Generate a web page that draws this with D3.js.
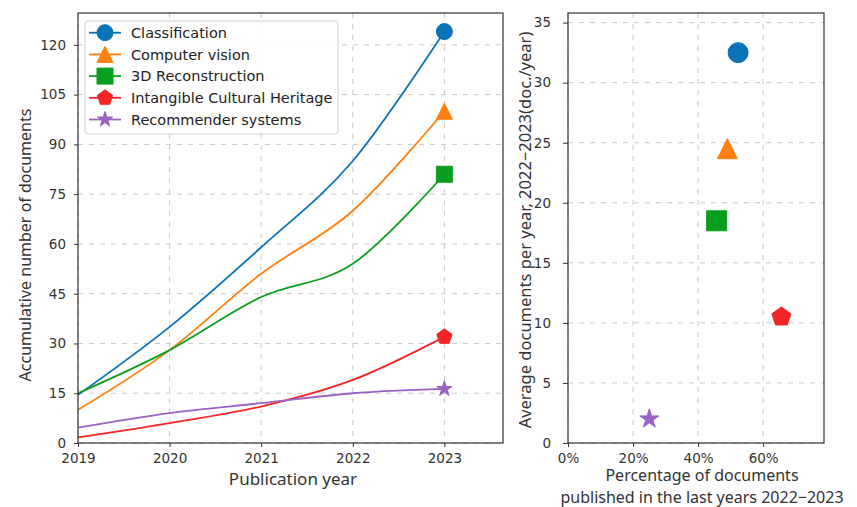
<!DOCTYPE html>
<html><head><meta charset="utf-8">
<script src="https://cdn.jsdelivr.net/npm/d3@7"></script>
<style>body{margin:0;background:#fff} svg{display:block}</style>
</head><body>
<svg id="c" width="857" height="507"></svg>
<script>
// ---- data ----
const years = [2019, 2020, 2021, 2022, 2023];
const seriesNames = ["Classification", "Computer vision", "3D Reconstruction", "Intangible Cultural Heritage", "Recommender systems"];
const classification = [14.5, 35, 59, 85, 124];
const computerVision = [10, 28, 51, 70, 100];
const reconstruction3D = [15, 28, 44, 54, 81];
const intangibleHeritage = [1.7, 6, 11, 19, 32];
const recommenderSystems = [4.6, 9, 12, 15, 16.3];
const pctRecent = [0.523, 0.49, 0.457, 0.656, 0.25];
const avgPerYear = [32.5, 24.5, 18.5, 10.5, 2.0];
const leftYTicks = [0, 15, 30, 45, 60, 75, 90, 105, 120];
const rightYTicks = [0, 5, 10, 15, 20, 25, 30, 35];
const rightXTicks = [0, 0.2, 0.4, 0.6];
const colors = ["#0a72b8", "#ff7f0e", "#0a9e1e", "#f52424", "#9a62c4"];
const markerTypes = ["circle", "triangle", "square", "pentagon", "star"];

const seriesValues = [classification, computerVision, reconstruction3D, intangibleHeritage, recommenderSystems];

const svg = d3.select("#c");
const tickFont = "'DejaVu Sans', sans-serif";
const labelFont = "'Noto Sans', sans-serif";

function markerPath(type, ms) {
  const r = ms / 2;
  const p = d3.path();
  if (type === "circle") { p.arc(0, 0, r, 0, 2 * Math.PI); p.closePath(); }
  else if (type === "triangle") { p.moveTo(0, -r); p.lineTo(r, r); p.lineTo(-r, r); p.closePath(); }
  else if (type === "square") { p.rect(-r, -r, ms, ms); }
  else if (type === "pentagon") {
    for (let k = 0; k < 5; k++) { const a = -Math.PI / 2 + k * 2 * Math.PI / 5; k ? p.lineTo(r * Math.cos(a), r * Math.sin(a)) : p.moveTo(r * Math.cos(a), r * Math.sin(a)); }
    p.closePath();
  } else if (type === "star") {
    for (let k = 0; k < 10; k++) { const rr = k % 2 ? r * 0.381966 : r; const a = -Math.PI / 2 + k * Math.PI / 5; k ? p.lineTo(rr * Math.cos(a), rr * Math.sin(a)) : p.moveTo(rr * Math.cos(a), rr * Math.sin(a)); }
    p.closePath();
  }
  return p.toString();
}

function styleAxis(g) {
  g.select(".domain").remove();
  g.selectAll(".tick line").attr("stroke", "#333").attr("stroke-width", 1);
  g.selectAll(".tick text").attr("fill", "#333").style("font-family", tickFont).style("font-size", "13.5px");
}

// ---- left chart ----
const L = { x0: 78, x1: 503, y0: 13, y1: 443 };
const xL = d3.scaleLinear().domain([2019, 2023.64]).range([L.x0, L.x1]);
const yL = d3.scaleLinear().domain([0, 129.6]).range([L.y1, L.y0]);

const gL = svg.append("g");
gL.append("g").selectAll("line").data(years).join("line")
  .attr("x1", d => xL(d)).attr("x2", d => xL(d)).attr("y1", L.y0).attr("y2", L.y1)
  .attr("stroke", "#c8c8c8").attr("stroke-width", 1).attr("stroke-dasharray", "5,6");
gL.append("g").selectAll("line").data(leftYTicks).join("line")
  .attr("x1", L.x0).attr("x2", L.x1).attr("y1", d => yL(d)).attr("y2", d => yL(d))
  .attr("stroke", "#c8c8c8").attr("stroke-width", 1).attr("stroke-dasharray", "5,6");

const line = d3.line().x((d, i) => xL(years[i])).y(d => yL(d)).curve(d3.curveCardinal.tension(0));
seriesValues.forEach((vals, si) => {
  gL.append("path").attr("d", line(vals)).attr("fill", "none").attr("stroke", colors[si]).attr("stroke-width", 1.8);
});
seriesValues.forEach((vals, si) => {
  const last = vals.length - 1;
  gL.append("path").attr("d", markerPath(markerTypes[si], 16))
    .attr("transform", `translate(${xL(years[last])},${yL(vals[last])})`)
    .attr("fill", colors[si]).attr("stroke", colors[si]).attr("stroke-width", 1);
});

gL.append("rect").attr("x", L.x0).attr("y", L.y0).attr("width", L.x1 - L.x0).attr("height", L.y1 - L.y0)
  .attr("fill", "none").attr("stroke", "#333").attr("stroke-width", 1.2);

const axLx = gL.append("g").attr("transform", `translate(0,${L.y1})`)
  .call(d3.axisBottom(xL).tickValues(years).tickFormat(d3.format("d")).tickSize(4).tickPadding(6));
styleAxis(axLx);
const axLy = gL.append("g").attr("transform", `translate(${L.x0},0)`)
  .call(d3.axisLeft(yL).tickValues(leftYTicks).tickSize(4).tickPadding(8));
styleAxis(axLy);

gL.append("text").attr("x", 293).attr("y", 485).attr("text-anchor", "middle")
  .style("font-family", labelFont).style("font-size", "17px").attr("fill", "#333").text("Publication year");
gL.append("text").attr("transform", "translate(31,245) rotate(-90)").attr("text-anchor", "middle")
  .style("font-family", labelFont).style("font-size", "16px").attr("fill", "#333").text("Accumulative number of documents");

// legend
const lg = gL.append("g");
lg.append("rect").attr("x", 85).attr("y", 21).attr("width", 253).attr("height", 113).attr("rx", 3)
  .attr("fill", "#fff").attr("fill-opacity", 0.85).attr("stroke", "#d0d0d0").attr("stroke-width", 1);
seriesNames.forEach((name, i) => {
  const yy = 32.7 + i * 21.7;
  lg.append("line").attr("x1", 89).attr("x2", 121).attr("y1", yy).attr("y2", yy).attr("stroke", colors[i]).attr("stroke-width", 1.8);
  lg.append("path").attr("d", markerPath(markerTypes[i], 16)).attr("transform", `translate(105,${yy})`)
    .attr("fill", colors[i]).attr("stroke", colors[i]).attr("stroke-width", 1);
  lg.append("text").attr("x", 131).attr("y", yy).attr("dy", "0.36em")
    .style("font-family", tickFont).style("font-size", "14.5px").attr("fill", "#222").text(name);
});

// ---- right chart ----
const R = { x0: 568, x1: 824, y0: 13, y1: 443 };
const xR = d3.scaleLinear().domain([0, 0.787]).range([R.x0, R.x1]);
const yR = d3.scaleLinear().domain([0, 35.8]).range([R.y1, R.y0]);
const gR = svg.append("g");
gR.append("g").selectAll("line").data(rightXTicks).join("line")
  .attr("x1", d => xR(d)).attr("x2", d => xR(d)).attr("y1", R.y0).attr("y2", R.y1)
  .attr("stroke", "#c8c8c8").attr("stroke-width", 1).attr("stroke-dasharray", "5,6");
gR.append("g").selectAll("line").data(rightYTicks).join("line")
  .attr("x1", R.x0).attr("x2", R.x1).attr("y1", d => yR(d)).attr("y2", d => yR(d))
  .attr("stroke", "#c8c8c8").attr("stroke-width", 1).attr("stroke-dasharray", "5,6");

pctRecent.forEach((p, i) => {
  gR.append("path").attr("d", markerPath(markerTypes[i], 20))
    .attr("transform", `translate(${xR(p)},${yR(avgPerYear[i])})`)
    .attr("fill", colors[i]).attr("stroke", colors[i]).attr("stroke-width", 1);
});

gR.append("rect").attr("x", R.x0).attr("y", R.y0).attr("width", R.x1 - R.x0).attr("height", R.y1 - R.y0)
  .attr("fill", "none").attr("stroke", "#333").attr("stroke-width", 1.2);
const axRx = gR.append("g").attr("transform", `translate(0,${R.y1})`)
  .call(d3.axisBottom(xR).tickValues(rightXTicks).tickFormat(d3.format(".0%")).tickSize(4).tickPadding(6));
styleAxis(axRx);
const axRy = gR.append("g").attr("transform", `translate(${R.x0},0)`)
  .call(d3.axisLeft(yR).tickValues(rightYTicks).tickSize(5).tickPadding(12));
styleAxis(axRy);

gR.append("text").attr("transform", "translate(531,230) rotate(-90)").attr("text-anchor", "middle")
  .style("font-family", labelFont).style("font-size", "16.5px").attr("fill", "#333")
  .text("Average documents per year, 2022\u22122023(doc./year)");
gR.append("text").attr("x", 702).attr("y", 481).attr("text-anchor", "middle")
  .style("font-family", labelFont).style("font-size", "16px").attr("fill", "#333").text("Percentage of documents");
gR.append("text").attr("x", 702).attr("y", 503).attr("text-anchor", "middle")
  .style("font-family", labelFont).style("font-size", "16px").attr("fill", "#333").text("published in the last years 2022\u22122023");
</script>
</body></html>
